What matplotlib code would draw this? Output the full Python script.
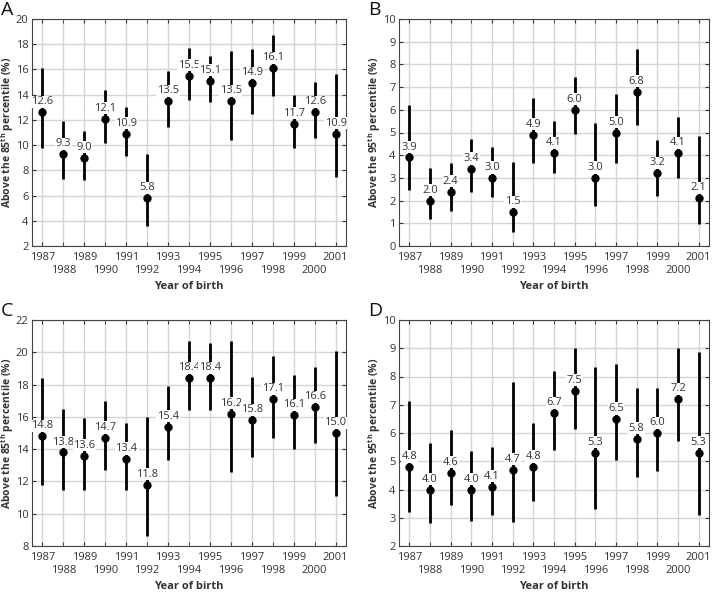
import numpy as np
import matplotlib.pyplot as plt

years = list(range(1987, 2002))

# Panel A: above 85th percentile
a_val = [12.6, 9.3, 9.0, 12.1, 10.9, 5.8, 13.5, 15.5, 15.1, 13.5, 14.9, 16.1, 11.7, 12.6, 10.9]
a_lo = [9.8, 7.3, 7.2, 10.2, 9.1, 3.6, 11.4, 13.6, 13.4, 10.4, 12.5, 13.9, 9.8, 10.6, 7.5]
a_hi = [16.1, 11.9, 11.1, 14.4, 13.0, 9.3, 15.9, 17.7, 17.1, 17.5, 17.6, 18.7, 14.0, 15.0, 15.6]

# Panel B: above 95th percentile
b_val = [3.9, 2.0, 2.4, 3.4, 3.0, 1.5, 4.9, 4.1, 6.0, 3.0, 5.0, 6.8, 3.2, 4.1, 2.1]
b_lo = [2.45, 1.2, 1.55, 2.4, 2.15, 0.6, 3.65, 3.2, 4.95, 1.75, 3.65, 5.35, 2.2, 3.0, 0.95]
b_hi = [6.2, 3.45, 3.65, 4.7, 4.35, 3.7, 6.5, 5.5, 7.45, 5.4, 6.7, 8.7, 4.65, 5.7, 4.85]

# Panel C: above 85th percentile
c_val = [14.8, 13.8, 13.6, 14.7, 13.4, 11.8, 15.4, 18.4, 18.4, 16.2, 15.8, 17.1, 16.1, 16.6, 15.0]
c_lo = [11.8, 11.5, 11.5, 12.7, 11.5, 8.6, 13.3, 16.4, 16.4, 12.6, 13.5, 14.7, 14.0, 14.4, 11.1]
c_hi = [18.4, 16.5, 15.9, 17.0, 15.6, 16.0, 17.9, 20.7, 20.6, 20.7, 18.5, 19.8, 18.6, 19.1, 20.1]

# Panel D: above 95th percentile
d_val = [4.8, 4.0, 4.6, 4.0, 4.1, 4.7, 4.8, 6.7, 7.5, 5.3, 6.5, 5.8, 6.0, 7.2, 5.3]
d_lo = [3.2, 2.8, 3.45, 2.9, 3.1, 2.85, 3.6, 5.4, 6.15, 3.3, 5.05, 4.45, 4.65, 5.7, 3.1]
d_hi = [7.15, 5.65, 6.1, 5.35, 5.5, 7.8, 6.35, 8.2, 9.0, 8.35, 8.45, 7.6, 7.6, 9.0, 8.85]

plt.rcParams["font.family"] = ["Open Sans", "DejaVu Sans"]
plt.rcParams["mathtext.fontset"] = "custom"
plt.rcParams["mathtext.rm"] = "Open Sans"
plt.rcParams["mathtext.bf"] = "Open Sans:bold"
fig = plt.figure(figsize=(7.14, 6.01), dpi=100)
W, H = 714, 601
TXT = "#333333"

panels = [
    ("A", a_val, a_lo, a_hi, "85", (2, 20), 2, (32, 19, 346, 246)),
    ("B", b_val, b_lo, b_hi, "95", (0, 10), 1, (399, 19, 709, 246)),
    ("C", c_val, c_lo, c_hi, "85", (8, 22), 2, (32, 320, 346, 546)),
    ("D", d_val, d_lo, d_hi, "95", (2, 10), 1, (399, 320, 709, 546)),
]

odd = [y for y in years if y % 2]
even = [y for y in years if not y % 2]

for letter, val, lo, hi, pct, ylim, ystep, (x0, y0, x1, y1) in panels:
    ax = fig.add_axes([x0 / W, 1 - y1 / H, (x1 - x0) / W, (y1 - y0) / H])
    val = np.array(val)
    err = [val - np.array(lo), np.array(hi) - val]
    ax.errorbar(years, val, yerr=err, fmt="o", color="black", ms=5,
                elinewidth=2, capsize=0, zorder=3)
    for x, v in zip(years, val):
        ax.annotate(f"{v:.1f}", (x, v), xytext=(0, 3.5), textcoords="offset points",
                    ha="center", va="bottom", fontsize=8, color=TXT, zorder=4,
                    bbox=dict(boxstyle="square,pad=0.05", fc="white", ec="none"))
    ax.set_xlim(1986.5, 2001.5)
    ax.set_ylim(*ylim)
    ax.set_yticks(np.arange(ylim[0], ylim[1] + 0.01, ystep))
    # staggered year labels: odd years on the first row, even years below
    ax.set_xticks(odd)
    ax.set_xticklabels([str(y) for y in odd])
    ax.set_xticks(even, minor=True)
    ax.set_xticklabels([str(y) for y in even], minor=True)
    ax.grid(True, which="both", axis="x", color="#d4d4d4", linewidth=1, zorder=0)
    ax.grid(True, axis="y", color="#d4d4d4", linewidth=1, zorder=0)
    ax.set_axisbelow(True)
    ax.tick_params(which="both", direction="in", top=True, right=True, length=3,
                   labelsize=8, colors=TXT)
    ax.tick_params(axis="x", which="major", pad=4)
    ax.tick_params(axis="x", which="minor", pad=14)
    ax.tick_params(axis="y", pad=2.5)
    for s in ax.spines.values():
        s.set_color("#444444")
        s.set_linewidth(0.8)
    ax.set_xlabel("Year of birth", fontsize=8, fontweight="bold", color=TXT, labelpad=3)
    ax.set_ylabel(f"Above the {pct}$^{{\\mathbf{{th}}}}$ percentile (%)", fontsize=7.5,
                  fontweight="bold", color=TXT, va="center")
    ax.yaxis.set_label_coords(-24 / (x1 - x0), 0.5)
    fig.text((x0 - 31) / W, 1 - (y0 - 18) / H, letter, fontsize=14, va="top", ha="left",
             color="#111111")

fig.savefig("out.png", dpi=100)
